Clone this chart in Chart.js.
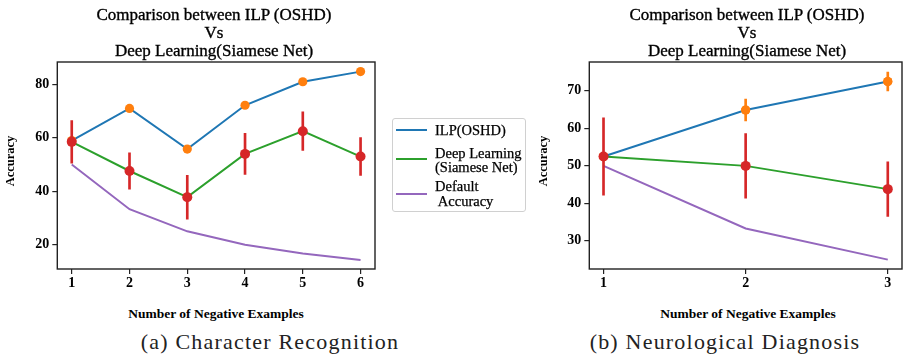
<!DOCTYPE html>
<html>
<head>
<meta charset="utf-8">
<script src="https://cdn.jsdelivr.net/npm/chart.js@4/dist/chart.umd.min.js"></script>
<style>
  html, body { margin: 0; padding: 0; background: #fff; }
  #wrap { position: relative; width: 907px; height: 356px; overflow: hidden; background: #fff; }
  canvas { position: absolute; top: 0; }
  .t { position: absolute; white-space: pre; color: #000; text-align: center; }
  .title { font-family: "Liberation Serif", serif; font-size: 17px; line-height: 18px; width: 320px; -webkit-text-stroke: 0.35px #000; }
  .xt { font-family: "Liberation Serif", serif; font-weight: bold; font-size: 13.5px; line-height: 16px; width: 260px; }
  .yt { font-family: "Liberation Serif", serif; font-weight: bold; font-size: 12.5px; line-height: 14px; width: 80px; transform: rotate(-90deg); }
  .cap { font-family: "Liberation Serif", serif; font-size: 22px; line-height: 26px; letter-spacing: 1.2px; width: 340px; color: #222; }
  #legend { position: absolute; left: 392px; top: 118px; width: 134px; height: 94px; border: 1px solid #d0d0d0; border-radius: 3px; box-sizing: border-box; }
  .lg { position: absolute; left: 3px; width: 31px; height: 2px; }
  .lt { position: absolute; left: 42px; font-family: "Liberation Serif", serif; font-size: 14.5px; line-height: 14px; white-space: pre; color: #000; -webkit-text-stroke: 0.25px #000; }
</style>
</head>
<body>
<div id="wrap">
  <canvas id="cA" width="380" height="300" style="left:0px;width:380px;height:300px"></canvas>
  <canvas id="cB" width="377" height="300" style="left:530px;width:377px;height:300px"></canvas>

  <div class="t title" style="left:54px;top:6px">Comparison between ILP (OSHD)
Vs
Deep Learning(Siamese Net)</div>
  <div class="t title" style="left:587px;top:6px">Comparison between ILP (OSHD)
Vs
Deep Learning(Siamese Net)</div>

  <div class="t xt" style="left:86px;top:306px">Number of Negative Examples</div>
  <div class="t xt" style="left:618px;top:306px">Number of Negative Examples</div>

  <div class="t yt" style="left:-30px;top:154px">Accuracy</div>
  <div class="t yt" style="left:503px;top:154px">Accuracy</div>

  <div id="legend">
    <div class="lg" style="top:10px;background:#1f77b4"></div>
    <div class="lt" style="top:4px">ILP(OSHD)</div>
    <div class="lg" style="top:39px;background:#2ca02c"></div>
    <div class="lt" style="top:27px">Deep Learning
(Siamese Net)</div>
    <div class="lg" style="top:74px;background:#9467bd"></div>
    <div class="lt" style="top:60px;line-height:15px">Default
 Accuracy</div>
  </div>

  <div class="t cap" style="left:100px;top:329px">(a) Character Recognition</div>
  <div class="t cap" style="left:555px;top:329px">(b) Neurological Diagnosis</div>
</div>

<script>
// ---- Data: (a) Character Recognition ----
const negExamplesA = [1, 2, 3, 4, 5, 6];
const ilpA      = [59.0, 71.0, 55.8, 72.2, 81.0, 84.8];
const deepA     = [58.5, 47.6, 37.8, 54.0, 62.5, 53.0];
const deepErrA  = [8.0, 6.8, 8.2, 7.7, 7.2, 7.1];
const defaultA  = [50.0, 33.3, 25.0, 20.0, 16.7, 14.3];
const yTicksA   = [20, 40, 60, 80];

// ---- Data: (b) Neurological Diagnosis ----
const negExamplesB = [1, 2, 3];
const ilpB      = [52.5, 64.9, 72.5];
const ilpErrB   = [0, 2.9, 2.5];
const deepB     = [52.5, 50.0, 43.8];
const deepErrB  = [10.3, 8.6, 7.3];
const defaultB  = [50.0, 33.3, 25.0];
const yTicksB   = [30, 40, 50, 60, 70];

const C_BLUE = '#1f77b4', C_ORANGE = '#ff7f0e', C_GREEN = '#2ca02c', C_RED = '#d62728', C_PURPLE = '#9467bd';

const framePlugin = {
  id: 'frame',
  afterDatasetsDraw(chart) {
    const a = chart.chartArea, ctx = chart.ctx;
    ctx.save();
    ctx.strokeStyle = '#222';
    ctx.lineWidth = 1.4;
    ctx.strokeRect(a.left, a.top, a.right - a.left, a.bottom - a.top);
    ctx.restore();
  }
};

function pts(xs, ys) { return xs.map((x, i) => ({ x: x, y: ys[i] })); }
function errs(xs, ys, es) { return xs.map((x, i) => ({ x: x, y: [ys[i] - es[i], ys[i] + es[i]] })); }

function makeChart(id, xs, ilp, ilpErr, deep, deepErr, def, yTicks, xMin, xMax, yMin, yMax, yAxisWidth, padRight) {
  const datasets = [
    { type: 'line', data: pts(xs, def), borderColor: C_PURPLE, borderWidth: 2, pointRadius: 0, order: 6, tension: 0 },
    { type: 'line', data: pts(xs, ilp), borderColor: C_BLUE, borderWidth: 2, pointRadius: 4.6, pointBackgroundColor: C_ORANGE, pointBorderWidth: 0, order: 5, tension: 0 },
    { type: 'line', data: pts(xs, deep), borderColor: C_GREEN, borderWidth: 2, pointRadius: 0, order: 4, tension: 0 },
  ];
  if (ilpErr) {
    datasets.push({ type: 'bar', data: errs(xs, ilp, ilpErr), backgroundColor: C_ORANGE, borderWidth: 0, barThickness: 2, grouped: false, order: 3 });
    datasets.push({ type: 'line', data: pts(xs, ilp), showLine: false, pointRadius: 4.6, pointBackgroundColor: C_ORANGE, pointBorderWidth: 0, order: 2 });
  }
  datasets.push({ type: 'bar', data: errs(xs, deep, deepErr), backgroundColor: C_RED, borderWidth: 0, barThickness: 2, grouped: false, order: 1 });
  datasets.push({ type: 'line', data: pts(xs, deep), showLine: false, pointRadius: 5, pointBackgroundColor: C_RED, pointBorderWidth: 0, order: 0 });

  const tickFont = { family: 'Liberation Serif', weight: 'bold', size: 14 };
  return new Chart(document.getElementById(id), {
    type: 'line',
    data: { datasets: datasets },
    options: {
      responsive: false,
      animation: false,
      devicePixelRatio: 1,
      layout: { padding: { top: 62, right: padRight, left: 0, bottom: 0 } },
      plugins: { legend: { display: false }, tooltip: { enabled: false }, title: { display: false } },
      scales: {
        x: {
          type: 'linear', min: xMin, max: xMax, offset: false,
          grid: { display: true, drawOnChartArea: false, drawTicks: true, tickLength: 5, color: '#222', lineWidth: 1.2, offset: false },
          border: { display: false },
          ticks: { color: '#000', font: tickFont, padding: 1, maxRotation: 0, autoSkip: false },
          afterBuildTicks: s => { s.ticks = xs.map(v => ({ value: v })); },
          afterFit: s => { s.height = 31; }
        },
        y: {
          type: 'linear', min: yMin, max: yMax,
          grid: { display: true, drawOnChartArea: false, drawTicks: true, tickLength: 5, color: '#222', lineWidth: 1.2 },
          border: { display: false },
          ticks: { color: '#000', font: tickFont, padding: 3, autoSkip: false },
          afterBuildTicks: s => { s.ticks = yTicks.map(v => ({ value: v })); },
          afterFit: s => { s.width = yAxisWidth; }
        }
      }
    },
    plugins: [framePlugin]
  });
}

makeChart('cA', negExamplesA, ilpA, null, deepA, deepErrA, defaultA, yTicksA, 0.75, 6.25, 10.9, 88.4, 57.3, 5);
makeChart('cB', negExamplesB, ilpB, ilpErrB, deepB, deepErrB, defaultB, yTicksB, 0.9, 3.1, 22.5, 77.7, 59.3, 2);
</script>
</body>
</html>
